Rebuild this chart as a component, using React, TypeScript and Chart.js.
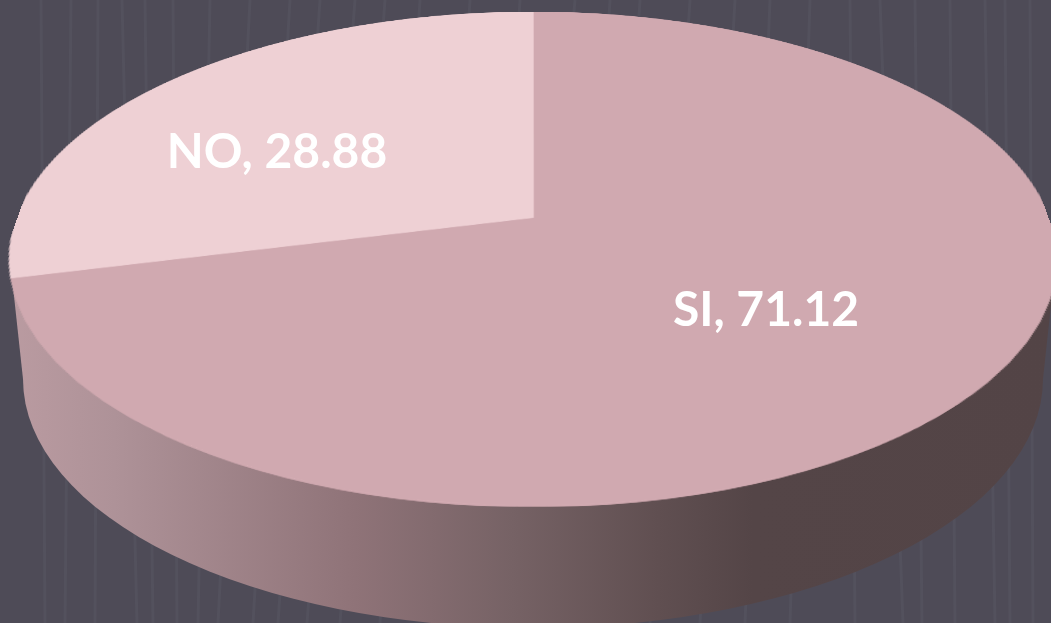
import React, { useEffect, useRef } from "react";
import { Chart, registerables } from "chart.js";

Chart.register(...registerables);

const categories = ["SI", "NO"];
const seriesValues = [71.12, 28.88];
const sliceColors = ["#d0a9b0", "#eed0d4"];

const WIDTH = 1051;
const HEIGHT = 623;

// perspective of the pie's top face
const APEX_X = 533;
const APEX_Y = 217.5;
const RISE = 205.5;
const DROP = 289;
const FACE_RX = 523;
const k = (RISE - DROP) / (RISE + DROP);
const a = RISE * (1 - k);
const b = FACE_RX * Math.sqrt(1 - k * k);
const FACE_CY = APEX_Y + (DROP - RISE) / 2;

// the wall below the face
const BASE_RX = 510;
const BASE_CY = 379;
const BASE_RY = 249;
const wallStops: [number, string][] = [
  [0, "#ba9ba1"],
  [0.1, "#ae9298"],
  [0.33, "#8f7378"],
  [0.48, "#766265"],
  [0.62, "#604f51"],
  [0.71, "#544547"],
  [1, "#534446"],
];

// faint wallpaper stripes: x at top, x at bottom
const stripes: [number, number][] = [
  [41, 45], [71, 65], [98, 95], [122, 137], [145, 153], [173, 177], [210, 198], [250, 218], [290, 253], [320, 278],
  [355, 307], [385, 340], [420, 380], [470, 430], [520, 480], [575, 520], [610, 570], [640, 600], [690, 650], [735, 700],
  [770, 745], [810, 790], [850, 855], [880, 903], [915, 922], [950, 955], [985, 995], [1005, 1010], [1030, 1033],
];

const labelPositions = [
  { x: 766, y: 326 },
  { x: 277, y: 168 },
];

const pie3d = {
  id: "pie3d",
  afterDatasetsDraw(chart: any) {
    const ctx: CanvasRenderingContext2D = chart.ctx;
    const arc = chart.getDatasetMeta(0).data[0];
    const R: number = arc.outerRadius;
    const cx: number = arc.x;
    const cy: number = arc.y;

    const off = document.createElement("canvas");
    off.width = WIDTH;
    off.height = HEIGHT;
    off.getContext("2d")!.drawImage(chart.canvas, 0, 0);

    ctx.save();
    ctx.setTransform(1, 0, 0, 1, 0, 0);
    ctx.clearRect(0, 0, WIDTH, HEIGHT);

    ctx.fillStyle = "#4e4b57";
    ctx.fillRect(0, 0, WIDTH, HEIGHT);
    ctx.strokeStyle = "#53515d";
    ctx.lineWidth = 3;
    for (const [x0, x1] of stripes) {
      ctx.beginPath();
      ctx.moveTo(x0, 0);
      ctx.lineTo(x1, HEIGHT);
      ctx.stroke();
    }

    const grad = ctx.createLinearGradient(APEX_X - FACE_RX, 0, APEX_X + FACE_RX, 0);
    for (const [p, c] of wallStops) grad.addColorStop(p, c);
    ctx.fillStyle = grad;
    ctx.beginPath();
    ctx.ellipse(APEX_X, BASE_CY, BASE_RX, BASE_RY, 0, 0, Math.PI * 2);
    ctx.fill();
    ctx.beginPath();
    ctx.moveTo(APEX_X - FACE_RX, FACE_CY);
    ctx.lineTo(APEX_X - BASE_RX, BASE_CY);
    ctx.lineTo(APEX_X + BASE_RX, BASE_CY);
    ctx.lineTo(APEX_X + FACE_RX, FACE_CY);
    ctx.closePath();
    ctx.fill();

    ctx.imageSmoothingEnabled = true;
    ctx.imageSmoothingQuality = "high";
    const srcY = (yp: number) => yp / (a - k * yp);
    const first = Math.floor(APEX_Y - RISE);
    const last = Math.ceil(APEX_Y + DROP);
    // two passes so that the soft rim of the warped face stays crisp
    for (let pass = 0; pass < 2; pass++) {
      for (let row = first; row <= last; row++) {
        const yTop = Math.max(-RISE, row - APEX_Y);
        const yBot = Math.min(DROP, row + 1 - APEX_Y);
        if (yBot <= yTop) continue;
        const s0 = srcY(yTop);
        const s1 = srcY(yBot);
        const w = 1 + (k * (s0 + s1)) / 2;
        const half = b / w;
        ctx.drawImage(off, cx - R, cy + R * s0, 2 * R, R * (s1 - s0), APEX_X - half, APEX_Y + yTop, 2 * half, yBot - yTop);
      }
    }

    ctx.fillStyle = "#ffffff";
    ctx.font = "700 48px Lato";
    ctx.textAlign = "center";
    ctx.textBaseline = "alphabetic";
    categories.forEach((name, i) => {
      ctx.fillText(`${name}, ${seriesValues[i]}`, labelPositions[i].x, labelPositions[i].y);
    });
    ctx.restore();
  },
};

export default function App() {
  const ref = useRef<HTMLCanvasElement>(null);
  useEffect(() => {
    document.body.style.margin = "0";
    document.body.style.background = "#4e4b57";
    const chart = new Chart(ref.current!, {
      type: "pie",
      data: {
        labels: categories,
        datasets: [{ data: seriesValues, backgroundColor: sliceColors, borderColor: sliceColors, borderWidth: 1 }],
      },
      options: {
        responsive: false,
        animation: false,
        devicePixelRatio: 1,
        layout: { padding: 0 },
        plugins: { legend: { display: false }, tooltip: { enabled: false } },
      },
      plugins: [pie3d],
    } as any);
    return () => chart.destroy();
  }, []);
  return <canvas ref={ref} width={WIDTH} height={HEIGHT} style={{ display: "block" }} />;
}
